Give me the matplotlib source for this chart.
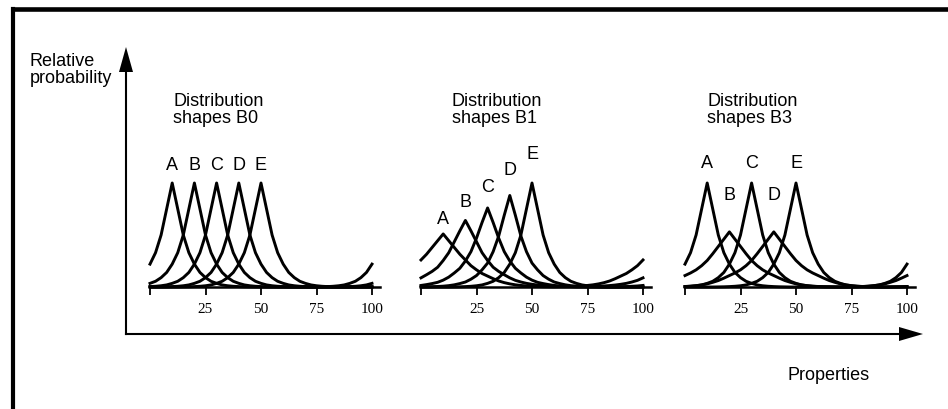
import matplotlib.pyplot as plt
import numpy as np

plt.rcParams["font.family"] = ["Liberation Sans", "DejaVu Sans"]

W, H = 948, 410

# property scale, sampled every 2.5 units
x_props = np.arange(0, 100.01, 2.5)
peak_pos = [10, 20, 30, 40, 50]
curve_names = ["A", "B", "C", "D", "E"]
tick_vals = [0, 25, 50, 75, 100]
tick_text = ["", "25", "50", "75", "100"]

# relative probability against distance from the peak (0, 2.5, ..., 50)
shape_narrow = [1.00, 0.75, 0.50, 0.33, 0.22, 0.14, 0.09, 0.055, 0.035, 0.02, 0.012,
                0.007, 0.004, 0.002, 0.001, 0, 0, 0, 0, 0, 0]
b1_a = [0.51, 0.445, 0.38, 0.315, 0.26, 0.205, 0.165, 0.13, 0.105, 0.08, 0.058,
        0.042, 0.03, 0.021, 0.015, 0.01, 0.007, 0.005, 0.003, 0.002, 0.001]
b1_b = [0.64, 0.54, 0.435, 0.33, 0.255, 0.19, 0.15, 0.118, 0.088, 0.064, 0.048,
        0.035, 0.026, 0.019, 0.014, 0.01, 0.007, 0.005, 0.003, 0.002, 0.001]
b1_c = [0.76, 0.62, 0.47, 0.34, 0.25, 0.18, 0.135, 0.095, 0.066, 0.045, 0.033,
        0.023, 0.015, 0.01, 0.007, 0.004, 0.002, 0.001, 0, 0, 0]
b1_d = [0.88, 0.69, 0.49, 0.34, 0.23, 0.165, 0.11, 0.075, 0.048, 0.033, 0.021,
        0.013, 0.008, 0.005, 0.003, 0.002, 0, 0, 0, 0, 0]
b3_short = [0.53, 0.46, 0.39, 0.32, 0.255, 0.205, 0.165, 0.135, 0.11, 0.085, 0.062,
            0.045, 0.03, 0.02, 0.013, 0.008, 0.005, 0.003, 0.002, 0.001, 0]

panel_titles = ["Distribution\nshapes B0", "Distribution\nshapes B1", "Distribution\nshapes B3"]
panel_shapes = [
    [shape_narrow] * 5,
    [b1_a, b1_b, b1_c, b1_d, shape_narrow],
    [shape_narrow, b3_short, shape_narrow, b3_short, shape_narrow],
]

# layout (pixels / data units)
panel_left = [150, 421, 685]
title_x = [10.4, 13.8, 10.0]
letter_y = [
    [1.18, 1.18, 1.18, 1.18, 1.18],
    [0.66, 0.82, 0.97, 1.13, 1.28],
    [1.20, 0.89, 1.20, 0.89, 1.20],
]
BASE_Y, UNIT_PX, SPAN_PX = 288, 104, 222
X_MAX = 103.5


def circular_curve(center, shape):
    dist = np.abs(x_props - center)
    dist = np.minimum(dist, 100 - dist)
    return np.asarray(shape)[np.rint(dist / 2.5).astype(int)]


fig = plt.figure(figsize=(W / 100, H / 100), dpi=100)

# background: frame, main axes arrows and their labels
bg = fig.add_axes([0, 0, 1, 1])
bg.set_xlim(0, W)
bg.set_ylim(H, 0)
bg.axis("off")
bg.plot([13.5, W + 5], [9.5, 9.5], color="black", lw=3.3, solid_capstyle="projecting")
bg.plot([13.5, 13.5], [9.5, H + 5], color="black", lw=3.0, solid_capstyle="projecting")
bg.plot([126, 126], [335, 70], color="black", lw=1.5, solid_capstyle="projecting")
bg.fill([119, 133, 126], [73, 73, 48], color="black", lw=0)
bg.plot([126, 902], [335, 335], color="black", lw=1.5, solid_capstyle="projecting")
bg.fill([899, 899, 923], [328, 342, 335], color="black", lw=0)
bg.text(30, 70, "Relative\nprobability", ha="left", va="center", fontsize=13, linespacing=1.0)
bg.text(829, 376, "Properties", ha="center", va="center", fontsize=13)

for left, title, tx, shapes, ly in zip(panel_left, panel_titles, title_x, panel_shapes, letter_y):
    ax = fig.add_axes([left / W, (H - BASE_Y) / H, SPAN_PX * X_MAX / 100 / W, UNIT_PX / H])
    ax.patch.set_visible(False)
    ax.set_xlim(0, X_MAX)
    ax.set_ylim(0, 1)
    for side in ["top", "right", "left"]:
        ax.spines[side].set_visible(False)
    ax.spines["bottom"].set_linewidth(1.8)
    ax.set_yticks([])
    ax.set_xticks(tick_vals)
    ax.set_xticklabels(tick_text, family="Liberation Serif", fontsize=11)
    ax.tick_params(axis="x", direction="out", length=5.5, width=1.3, pad=5)

    for center, shape, name, y_lab in zip(peak_pos, shapes, curve_names, ly):
        ax.plot(x_props, circular_curve(center, shape), color="black", lw=2.1,
                solid_joinstyle="round", clip_on=False)
        ax.text(center, y_lab, name, ha="center", va="center", fontsize=13)

    ax.text(tx, 1.71, title, ha="left", va="center", fontsize=13, linespacing=1.05)

fig.savefig("out.png", dpi=100)
plt.close(fig)
